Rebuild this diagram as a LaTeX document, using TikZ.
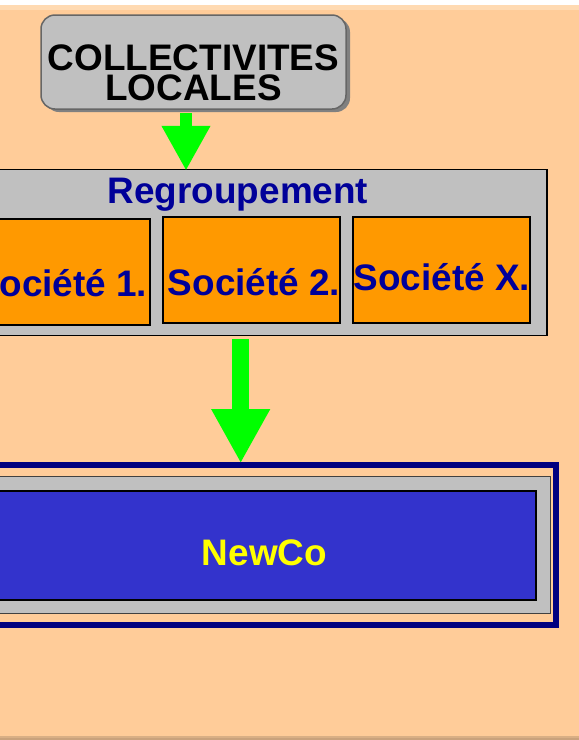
\documentclass[tikz,border=0pt]{standalone}
\usepackage{fontspec}
\setmainfont{Liberation Sans}
\usetikzlibrary{arrows.meta,shadows,calc}
\definecolor{peach}{HTML}{FFCC99}
\definecolor{peachlight}{HTML}{FFDAB2}
\definecolor{peachdark}{HTML}{C9A27C}
\definecolor{boxgray}{HTML}{C0C0C0}
\definecolor{arrowgreen}{HTML}{00FF00}
\definecolor{titleblue}{HTML}{000099}
\definecolor{societe}{HTML}{FF9900}
\definecolor{newcoblue}{HTML}{3333CC}
\definecolor{framenavy}{HTML}{000080}
\definecolor{newcoyellow}{HTML}{FFFF00}
\begin{document}
\begin{tikzpicture}[x=1pt,y=-1pt,
  bigtext/.style={inner sep=0pt,anchor=base,font=\fontsize{36.9}{30}\selectfont\bfseries},
  boxplain/.style={rectangle,inner sep=0pt,draw=black,line width=1.5pt},
  societybox/.style={boxplain,fill=societe,minimum width=177pt,minimum height=106pt},
  bigarrow/.style={draw=arrowgreen,line width=#1}
]
\useasboundingbox (0,0) rectangle (579,740);
\clip (0,0) rectangle (579,740);
% background
\fill[white] (0,0) rectangle (579,5);
\fill[peachlight] (0,5) rectangle (579,10);
\fill[peach] (0,10) rectangle (579,736);
\fill[peachdark!70!peach] (0,736) rectangle (579,737.5);
\fill[peachdark] (0,737.5) rectangle (579,740);

% collectivites
\node[rectangle,rounded corners=14pt,draw=black!60,line width=1.5pt,fill=boxgray,
  minimum width=305pt,minimum height=94pt,inner sep=0pt,
  drop shadow={shadow xshift=4pt,shadow yshift=-3pt,fill=black!50,opacity=1}]
  (coll) at (193.5,62) {};
\node[bigtext,text=black] (colltxt1) at (193.5,70) {COLLECTIVITES};
\node[bigtext,text=black] (colltxt2) at (193.5,100) {LOCALES};

% regroupement
\node[boxplain,fill=boxgray,minimum width=577pt,minimum height=166pt] (reg) at (258.5,252.5) {};
\node[bigtext,text=titleblue] (regtxt) at (238,203) {Regroupement};
\node[societybox,minimum height=106pt] (s1) at (61.3,272) {};
\node[societybox] (s2) at (251.5,270) {};
\node[societybox] (sx) at (441.5,270) {};
\node[bigtext,text=titleblue] (s1txt) at (61,296) {Société 1.};
\node[bigtext,text=titleblue] (s2txt) at (254,295) {Société 2.};
\node[bigtext,text=titleblue] (sxtxt) at (442,290) {Société X.};

% newco
\node[rectangle,draw=framenavy,line width=6pt,minimum width=583pt,minimum height=159.7pt,inner sep=0pt] (frame) at (264.5,544.85) {};
\node[rectangle,draw=black!75,line width=1pt,fill=boxgray,minimum width=571pt,minimum height=136.6pt,inner sep=0pt] (newgray) at (264.5,545) {};
\node[boxplain,fill=newcoblue,minimum width=543pt,minimum height=109pt] (newco) at (264.5,545.5) {};
\node[bigtext,text=newcoyellow] (newcotxt) at (264.5,565.7) {NewCo};

% arrows
\draw[bigarrow=12.3pt,-{Triangle[width=45.7pt,length=45pt]},arrowgreen]
  ($(coll.south)+(-7.5,3.5)$) -- ($(reg.north)+(-72.5,2)$);
\draw[bigarrow=16.7pt,-{Triangle[width=55pt,length=54.3pt]},arrowgreen]
  ($(reg.south)+(-17.8,2.5)$) -- ($(frame.north)+(-23.8,1.3)$);
\end{tikzpicture}
\end{document}
